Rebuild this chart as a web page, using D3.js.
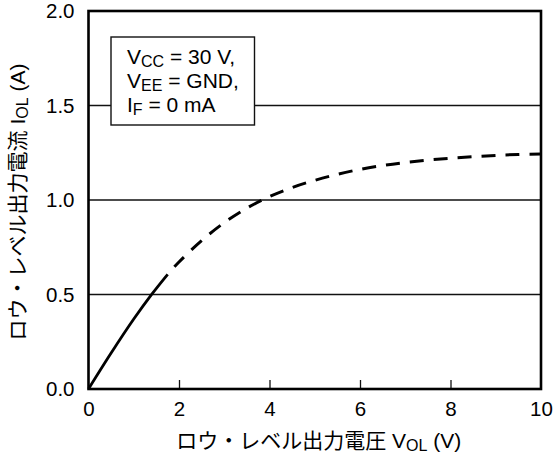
<!DOCTYPE html>
<html>
<head>
<meta charset="utf-8">
<script src="https://cdn.jsdelivr.net/npm/d3@7"></script>
<style>
  body { margin: 0; background: #fff; }
  svg { display: block; font-family: "Liberation Sans", Arial, "Noto Sans CJK JP", sans-serif; }
</style>
</head>
<body>
<svg id="chart"></svg>
<script>
// output voltage (V) and low-level output current (A)
const voltage = [0, 0.5, 1.0, 1.4, 1.75, 2.0, 2.5, 3.0, 3.5, 4.0, 4.5, 5.0, 5.5, 6.0, 6.5, 7.0, 7.5, 8.0, 8.5, 9.0, 9.5, 10];
const current = [0, 0.19, 0.37, 0.502, 0.607, 0.672, 0.785, 0.88, 0.957, 1.018, 1.066, 1.104, 1.136, 1.162, 1.182, 1.198, 1.211, 1.221, 1.229, 1.236, 1.241, 1.243];
const solidUntil = 1.75; // measured part, the rest is dashed

const xTicks = [0, 2, 4, 6, 8, 10];
const yTicks = [0, 0.5, 1.0, 1.5, 2.0];
const gridLevels = [0.5, 1.0, 1.5];

const svgWidth = 555;
const svgHeight = 459;
const margin = { top: 11, right: 14, bottom: 70, left: 88.5 };

const svg = d3.select("#chart")
  .attr("width", svgWidth)
  .attr("height", svgHeight);

const xScale = d3.scaleLinear()
  .domain([0, 10])
  .range([margin.left, svgWidth - margin.right]);

const yScale = d3.scaleLinear()
  .domain([0, 2])
  .range([svgHeight - margin.bottom, margin.top]);

// horizontal grid lines
svg.selectAll("line.grid")
  .data(gridLevels)
  .enter().append("line")
  .attr("class", "grid")
  .attr("x1", xScale(0))
  .attr("x2", xScale(10))
  .attr("y1", d => yScale(d))
  .attr("y2", d => yScale(d))
  .attr("stroke", "#111")
  .attr("stroke-width", 1.3);

// x axis: labels below, small ticks pointing inward
const xAxis = svg.append("g")
  .attr("transform", `translate(0,${yScale(0)})`)
  .call(d3.axisBottom(xScale).tickValues(xTicks).tickFormat(d3.format("d")).tickSize(-9).tickPadding(12));
xAxis.select(".domain").remove();
xAxis.selectAll("line").attr("stroke", "#111").attr("stroke-width", 1.3)
  .filter(d => d === 0 || d === 10).remove();
xAxis.selectAll("text").attr("font-size", 20.5).attr("fill", "#000").attr("font-family", null);

const yAxis = svg.append("g")
  .attr("transform", `translate(${xScale(0)},0)`)
  .call(d3.axisLeft(yScale).tickValues(yTicks).tickFormat(d3.format(".1f")).tickSize(0).tickPadding(14));
yAxis.select(".domain").remove();
yAxis.selectAll("text").attr("font-size", 20.5).attr("fill", "#000").attr("font-family", null);

// frame
svg.append("rect")
  .attr("x", xScale(0))
  .attr("y", yScale(2))
  .attr("width", xScale(10) - xScale(0))
  .attr("height", yScale(0) - yScale(2))
  .attr("fill", "none")
  .attr("stroke", "#000")
  .attr("stroke-width", 2.6);

// curve
const points = voltage.map((v, i) => [v, current[i]]);
const line = d3.line()
  .x(d => xScale(d[0]))
  .y(d => yScale(d[1]))
  .curve(d3.curveCatmullRom);

svg.append("path")
  .datum(points.filter(d => d[0] <= solidUntil))
  .attr("d", line)
  .attr("fill", "none")
  .attr("stroke", "#000")
  .attr("stroke-width", 2.8);

svg.append("path")
  .datum(points.filter(d => d[0] >= solidUntil))
  .attr("d", line)
  .attr("fill", "none")
  .attr("stroke", "#000")
  .attr("stroke-width", 3)
  .attr("stroke-dasharray", "14,10")
  .attr("stroke-dashoffset", 14);

// condition box
const box = svg.append("g");
box.append("rect")
  .attr("x", 111)
  .attr("y", 37)
  .attr("width", 143.5)
  .attr("height", 88)
  .attr("fill", "#fff")
  .attr("stroke", "#111")
  .attr("stroke-width", 1.4);

const boxLines = [
  ["V", "CC", " = 30 V,"],
  ["V", "EE", " = GND,"],
  ["I", "F", " = 0 mA"]
];
boxLines.forEach((parts, i) => {
  const t = box.append("text")
    .attr("x", 127)
    .attr("y", 64 + i * 24.2)
    .attr("font-size", 21);
  t.append("tspan").text(parts[0]);
  t.append("tspan").attr("font-size", 16).attr("dy", 3).text(parts[1]);
  t.append("tspan").attr("dy", -3).text(parts[2]);
});

// axis titles
const xTitle = svg.append("text")
  .attr("x", (xScale(0) + xScale(10)) / 2 + 4)
  .attr("y", 448)
  .attr("text-anchor", "middle")
  .attr("font-size", 21);
xTitle.append("tspan").text("ロウ・レベル出力電圧 V");
xTitle.append("tspan").attr("font-size", 16).attr("dy", 3).text("OL");
xTitle.append("tspan").attr("dy", -3).text(" (V)");

const yTitle = svg.append("text")
  .attr("transform", `translate(25,${(yScale(0) + yScale(2)) / 2 + 2}) rotate(-90)`)
  .attr("text-anchor", "middle")
  .attr("font-size", 21);
yTitle.append("tspan").text("ロウ・レベル出力電流 I");
yTitle.append("tspan").attr("font-size", 16).attr("dy", 3).text("OL");
yTitle.append("tspan").attr("dy", -3).text(" (A)");
</script>
</body>
</html>
